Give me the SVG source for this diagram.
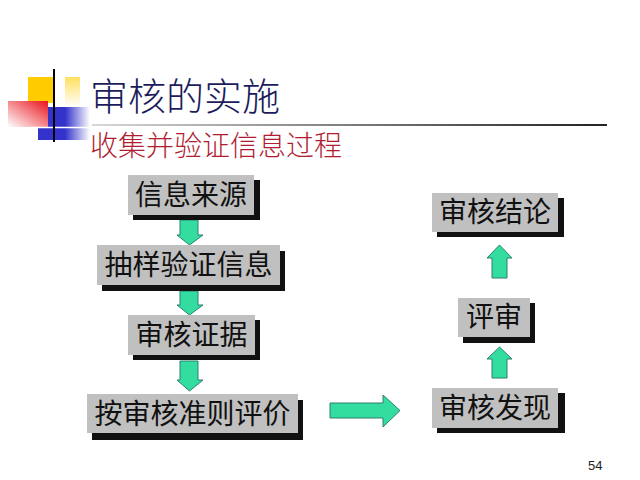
<svg xmlns="http://www.w3.org/2000/svg" width="640" height="480" viewBox="0 0 640 480">
<defs>
<linearGradient id="gRed" x1="0" y1="1" x2="1" y2="0">
<stop offset="0" stop-color="#ffffff"/><stop offset="1" stop-color="#e8141c"/>
</linearGradient>
<linearGradient id="gBlue" x1="0" y1="0" x2="1" y2="0">
<stop offset="0" stop-color="#3333cc"/><stop offset="1" stop-color="#ffffff"/>
</linearGradient>
<linearGradient id="gYel" x1="0" y1="0" x2="0" y2="1">
<stop offset="0" stop-color="#ffe060"/><stop offset="1" stop-color="#ffffff"/>
</linearGradient>
<linearGradient id="gLine" x1="0" y1="0" x2="1" y2="0">
<stop offset="0" stop-color="#d8d8d8"/><stop offset="1" stop-color="#222222"/>
</linearGradient>
<style>
.box{fill:#c0c0c0;}
.sh{fill:#111111;}
.t{font-family:"Noto Sans CJK SC","Liberation Sans",sans-serif;font-size:28px;fill:#111111;text-anchor:middle;}
.arr{fill:#33dda0;stroke:#2c7f70;stroke-width:1;}
</style>
</defs>
<rect width="640" height="480" fill="#ffffff"/>
<g id="logo">
<rect x="28" y="77" width="25" height="26" fill="#ffcc00"/>
<rect x="65" y="77" width="15" height="30" fill="url(#gYel)"/>
<rect x="48" y="107" width="17" height="33" fill="#3333cc"/>
<rect x="38" y="127" width="27" height="13" fill="#3333cc"/>
<rect x="65" y="107" width="25" height="33" fill="url(#gBlue)"/>
<rect x="8" y="101" width="40" height="26" fill="url(#gRed)"/>
<line x1="30" y1="127.5" x2="90" y2="127.5" stroke="#ffffff" stroke-width="1.5"/>
<line x1="54" y1="69" x2="54" y2="142" stroke="#000000" stroke-width="2"/>
</g>
<g id="title">
<text x="90" y="110" style="font-family:'Noto Sans CJK SC','Liberation Sans',sans-serif;font-size:38px;font-weight:300;fill:#1c1c5c;">审核的实施</text>
<rect x="92" y="124" width="515" height="2" fill="url(#gLine)"/>
<text x="90" y="156" style="font-family:'Noto Sans CJK SC','Liberation Sans',sans-serif;font-size:28px;font-weight:300;fill:#b01c30;">收集并验证信息过程</text>
</g>
<g id="connectors">
<polygon class="arr" points="180,220 198,220 198,235 203,235 189.5,245 177,235 180,235"/>
<polygon class="arr" points="180,291 198,291 198,305 203,305 189.5,315 177,305 180,305"/>
<polygon class="arr" points="180,361 198,361 198,380 203,380 189.5,391 177,380 180,380"/>
<polygon class="arr" points="330,403 383,403 383,395 400,410.5 383,427 383,418 330,418"/>
<polygon class="arr" points="492,278 507,278 507,258 512,258 499.5,245 487,258 492,258"/>
<polygon class="arr" points="492,378 507,378 507,359 512,359 499.5,347 487,359 492,359"/>
</g>
<g id="n1">
<rect class="sh" x="133" y="180" width="127" height="40"/>
<rect class="box" x="128" y="175" width="126" height="40"/>
<text class="t" x="191" y="205">信息来源</text>
</g>
<g id="n2">
<rect class="sh" x="102" y="251" width="183" height="40"/>
<rect class="box" x="97" y="245" width="183" height="40"/>
<text class="t" x="188.5" y="275">抽样验证信息</text>
</g>
<g id="n3">
<rect class="sh" x="133" y="320" width="127" height="40"/>
<rect class="box" x="128" y="315" width="127" height="40"/>
<text class="t" x="191.5" y="345">审核证据</text>
</g>
<g id="n4">
<rect class="sh" x="92" y="400" width="211" height="40"/>
<rect class="box" x="87" y="394" width="211" height="39"/>
<text class="t" x="192.5" y="424">按审核准则评价</text>
</g>
<g id="n5">
<rect class="sh" x="437" y="198" width="127" height="39"/>
<rect class="box" x="432" y="193" width="126" height="39"/>
<text class="t" x="495" y="222">审核结论</text>
</g>
<g id="n6">
<rect class="sh" x="463" y="303" width="72" height="40"/>
<rect class="box" x="458" y="298" width="72" height="39"/>
<text class="t" x="494" y="327">评审</text>
</g>
<g id="n7">
<rect class="sh" x="437" y="393" width="128" height="40"/>
<rect class="box" x="432" y="388" width="126" height="40"/>
<text class="t" x="495" y="418">审核发现</text>
</g>
<text x="588" y="470" style="font-family:'Liberation Sans',sans-serif;font-size:13px;fill:#222222;">54</text>
</svg>
